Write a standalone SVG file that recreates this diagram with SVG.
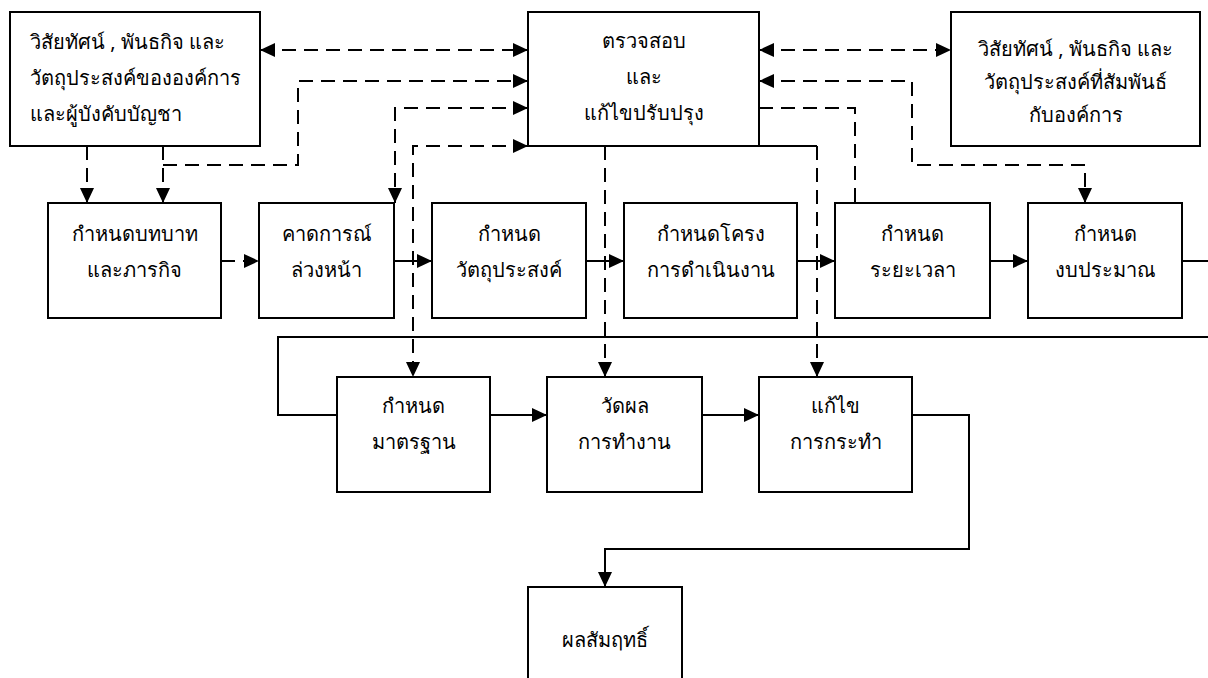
<svg xmlns="http://www.w3.org/2000/svg" width="1208" height="678" viewBox="0 0 1208 678">
<defs>
<marker id="ah" markerUnits="userSpaceOnUse" markerWidth="16" markerHeight="14" refX="15" refY="7" orient="auto-start-reverse">
<path d="M0,0 L15,7 L0,14 Z" fill="#000"/>
</marker>
<style>
.box{fill:#fff;stroke:#000;stroke-width:2}
.t{font-family:"Noto Sans","DejaVu Sans",sans-serif;font-size:20px;fill:#000;text-anchor:middle}
.tl{text-anchor:start}
.s{fill:none;stroke:#000;stroke-width:2}
.d{fill:none;stroke:#000;stroke-width:2;stroke-dasharray:14 8}
.ae{marker-end:url(#ah)}
.ab{marker-start:url(#ah);marker-end:url(#ah)}
</style>
</defs>
<rect width="1208" height="678" fill="#fff"/>
<g id="connectors">
<path class="s ae" d="M394,261 H432"/>
<path class="s ae" d="M586,261 H624"/>
<path class="s ae" d="M797,261 H835"/>
<path class="s ae" d="M990,261 H1028"/>
<path class="s" d="M1182,261 H1208"/>
<path class="s" d="M1208,337 H278 V415 H337"/>
<path class="s ae" d="M490,415 H547"/>
<path class="s ae" d="M702,415 H759"/>
<path class="s ae" d="M912,415 H969 V549 H605 V587"/>
<path class="s" d="M759,146 H817"/>
<path class="d ab" d="M260,50 H528"/>
<path class="d ab" d="M759,50 H951"/>
<path class="d ae" d="M87,146 V203"/>
<path class="d ae" d="M163,146 V203"/>
<path class="d ae" d="M163,165 H298 V81 H528"/>
<path class="d ab" d="M528,108 H395 V203"/>
<path class="d ab" d="M528,146 H413 V377"/>
<path class="d ae" d="M605,146 V377"/>
<path class="d ae" d="M221,261 H259"/>
<path class="d ab" d="M759,81 H912 V165 H1085 V203"/>
<path class="d" d="M759,108 H855 V203"/>
<path class="d ae" d="M817,146 V377"/>
</g>
<g id="n-vision-org">
<rect class="box" x="10" y="12" width="250" height="134"/>
<text class="t tl" x="30" y="49">วิสัยทัศน์ , พันธกิจ และ</text>
<text class="t tl" x="30" y="85">วัตถุประสงค์ขององค์การ</text>
<text class="t tl" x="30" y="121">และผู้บังคับบัญชา</text>
</g>
<g id="n-review">
<rect class="box" x="528" y="12" width="231" height="134"/>
<text class="t" x="643.5" y="48">ตรวจสอบ</text>
<text class="t" x="643.5" y="84">และ</text>
<text class="t" x="643.5" y="120">แก้ไขปรับปรุง</text>
</g>
<g id="n-vision-related">
<rect class="box" x="951" y="12" width="249" height="134"/>
<text class="t" x="1075.5" y="56">วิสัยทัศน์ , พันธกิจ และ</text>
<text class="t" x="1075.5" y="89">วัตถุประสงค์ที่สัมพันธ์</text>
<text class="t" x="1075.5" y="122">กับองค์การ</text>
</g>
<g id="n-role">
<rect class="box" x="48" y="203" width="173" height="115"/>
<text class="t" x="134.5" y="241">กำหนดบทบาท</text>
<text class="t" x="134.5" y="277">และภารกิจ</text>
</g>
<g id="n-forecast">
<rect class="box" x="259" y="203" width="135" height="115"/>
<text class="t" x="326.5" y="241">คาดการณ์</text>
<text class="t" x="326.5" y="277">ล่วงหน้า</text>
</g>
<g id="n-objective">
<rect class="box" x="432" y="203" width="154" height="115"/>
<text class="t" x="509" y="241">กำหนด</text>
<text class="t" x="509" y="277">วัตถุประสงค์</text>
</g>
<g id="n-structure">
<rect class="box" x="624" y="203" width="173" height="115"/>
<text class="t" x="710.5" y="241">กำหนดโครง</text>
<text class="t" x="710.5" y="277">การดำเนินงาน</text>
</g>
<g id="n-timeline">
<rect class="box" x="835" y="203" width="155" height="115"/>
<text class="t" x="912.5" y="241">กำหนด</text>
<text class="t" x="912.5" y="277">ระยะเวลา</text>
</g>
<g id="n-budget">
<rect class="box" x="1028" y="203" width="154" height="115"/>
<text class="t" x="1105" y="241">กำหนด</text>
<text class="t" x="1105" y="277">งบประมาณ</text>
</g>
<g id="n-standard">
<rect class="box" x="337" y="377" width="153" height="115"/>
<text class="t" x="413.5" y="413">กำหนด</text>
<text class="t" x="413.5" y="449">มาตรฐาน</text>
</g>
<g id="n-measure">
<rect class="box" x="547" y="377" width="155" height="115"/>
<text class="t" x="624.5" y="413">วัดผล</text>
<text class="t" x="624.5" y="449">การทำงาน</text>
</g>
<g id="n-correct">
<rect class="box" x="759" y="377" width="153" height="115"/>
<text class="t" x="835.5" y="413">แก้ไข</text>
<text class="t" x="835.5" y="449">การกระทำ</text>
</g>
<g id="n-result">
<rect class="box" x="528" y="587" width="154" height="100"/>
<text class="t" x="605" y="647">ผลสัมฤทธิ์</text>
</g>
</svg>
